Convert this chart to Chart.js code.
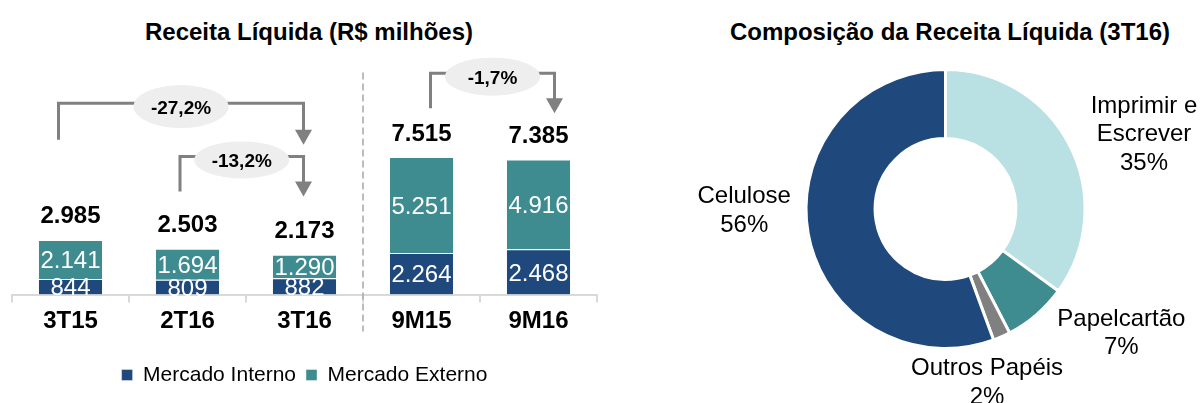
<!DOCTYPE html>
<html>
<head>
<meta charset="utf-8">
<script src="https://cdn.jsdelivr.net/npm/chart.js@4.4.1/dist/chart.umd.min.js"></script>
<style>
  html, body { margin:0; padding:0; background:#fff; }
  body { width:1203px; height:403px; position:relative; overflow:hidden; font-family:"Liberation Sans", Arial, sans-serif; }
  .title { position:absolute; top:20px; font-weight:bold; font-size:24px; line-height:24px; color:#000; text-align:center; white-space:nowrap; }
  #wrapL { position:absolute; left:0; top:0; width:603px; height:403px; }
  #wrapR { position:absolute; left:600px; top:0; width:603px; height:403px; }
</style>
</head>
<body>
<div class="title" style="left:109px; width:400px;">Receita Líquida (R$ milhões)</div>
<div class="title" style="left:700px; width:500px;">Composição da Receita Líquida (3T16)</div>
<div id="wrapL"><canvas id="barChart"></canvas></div>
<div id="wrapR"><canvas id="pieChart"></canvas></div>
<script>
// ---------- data ----------
const categories = ['3T15', '2T16', '3T16', '9M15', '9M16'];
const mercadoInterno = [844, 809, 882, 2264, 2468];
const mercadoExterno = [2141, 1694, 1290, 5251, 4916];
const totals = [2985, 2503, 2173, 7515, 7385];
const variationLabels = ['-27,2%', '-13,2%', '-1,7%'];
const variationFrom = [0, 1, 3];
const variationTo = [2, 2, 4];

const segmentos = ['Imprimir e Escrever', 'Papelcartão', 'Outros Papéis', 'Celulose'];
const segmentoLinhas = [['Imprimir e', 'Escrever'], ['Papelcartão'], ['Outros Papéis'], ['Celulose']];
const participacao = [35.0, 7.4, 2.0, 55.6];

// ---------- styles ----------
const FONT = '"Liberation Sans", Arial, sans-serif';
const NAVY = '#1F497D';
const TEAL = '#3E8C90';
const LIGHT = '#B9E0E3';
const GRAY = '#808080';

function fmt(n) { return String(n).replace(/\B(?=(\d{3})+(?!\d))/g, '.'); }

// ---------- bar chart plugin ----------
const barDecor = {
  id: 'barDecor',
  afterDatasetsDraw(chart, args, opts) {
    const ctx = chart.ctx;
    const xs = chart.scales.x, ys = chart.scales.y;
    ctx.save();
    // inner value labels
    ctx.font = '24px ' + FONT;
    ctx.fillStyle = '#fff';
    ctx.textAlign = 'center';
    ctx.textBaseline = 'alphabetic';
    chart.data.datasets.forEach((ds, di) => {
      chart.getDatasetMeta(di).data.forEach((bar, i) => {
        const cy = (bar.y + bar.base) / 2;
        ctx.fillText(fmt(ds.data[i]), bar.x, cy + 8.6);
      });
    });
    // totals
    ctx.font = 'bold 24px ' + FONT;
    ctx.fillStyle = '#000';
    const topMeta = chart.getDatasetMeta(1);
    totals.forEach((t, i) => {
      const bar = topMeta.data[i];
      ctx.fillText(fmt(t), bar.x, bar.y - 16.5);
    });
    // separator
    const sepX = (xs.getPixelForValue(2) + xs.getPixelForValue(3)) / 2;
    ctx.strokeStyle = '#A6A6A6';
    ctx.lineWidth = 1.5;
    ctx.setLineDash([7, 4]);
    ctx.beginPath();
    ctx.moveTo(sepX, chart.chartArea.top + 34);
    ctx.lineTo(sepX, chart.chartArea.bottom + 37);
    ctx.stroke();
    ctx.setLineDash([]);
    // arrows
    opts.arrows.forEach((a, k) => {
      const x1 = xs.getPixelForValue(variationFrom[k]) + a.dx1;
      const x2 = xs.getPixelForValue(variationTo[k]) + a.dx2;
      const yTop = ys.getPixelForValue(a.top);
      const yStart = ys.getPixelForValue(a.start);
      const yTip = ys.getPixelForValue(a.tip);
      ctx.strokeStyle = GRAY;
      ctx.fillStyle = GRAY;
      ctx.lineWidth = 3;
      ctx.lineJoin = 'miter';
      ctx.beginPath();
      ctx.moveTo(x1, yStart);
      ctx.lineTo(x1, yTop);
      ctx.lineTo(x2, yTop);
      ctx.lineTo(x2, yTip - 14);
      ctx.stroke();
      ctx.beginPath();
      ctx.moveTo(x2 - 8.5, yTip - 15);
      ctx.lineTo(x2 + 8.5, yTip - 15);
      ctx.lineTo(x2, yTip);
      ctx.closePath();
      ctx.fill();
      const ex = (x1 + x2) / 2, ey = yTop + 3.4;
      ctx.fillStyle = '#EEEEEE';
      ctx.beginPath();
      ctx.ellipse(ex, ey, 47.5, a.eh / 2, 0, 0, Math.PI * 2);
      ctx.fill();
      ctx.fillStyle = '#000';
      ctx.font = 'bold 19px ' + FONT;
      ctx.textAlign = 'center';
      ctx.fillText(variationLabels[k], ex, ey + 7);
    });
    ctx.restore();
  }
};

new Chart(document.getElementById('barChart'), {
  type: 'bar',
  data: {
    labels: categories,
    datasets: [
      { label: 'Mercado Interno', data: mercadoInterno, backgroundColor: NAVY, borderColor: 'rgba(255,255,255,0.4)', borderWidth: 1, borderSkipped: 'bottom' },
      { label: 'Mercado Externo', data: mercadoExterno, backgroundColor: TEAL, borderColor: 'rgba(255,255,255,0.4)', borderWidth: 1, borderSkipped: 'bottom' }
    ]
  },
  options: {
    responsive: true,
    maintainAspectRatio: false,
    animation: false,
    events: [],
    layout: { padding: { left: 12, right: 6, top: 38.5, bottom: 7.5 } },
    datasets: { bar: { categoryPercentage: 0.556, barPercentage: 1 } },
    scales: {
      x: {
        stacked: true,
        grid: { offset: true, drawOnChartArea: false, drawTicks: true, tickLength: 8, color: '#D9D9D9', lineWidth: 2 },
        border: { display: true, color: '#D9D9D9', width: 2 },
        ticks: { color: '#000', font: { family: FONT, size: 24, weight: 'bold' }, padding: 4 },
        afterFit(scale) { scale.height = 60; }
      },
      y: { stacked: true, display: false, min: 0, max: 14000 }
    },
    plugins: {
      legend: {
        position: 'bottom',
        labels: { color: '#000', font: { family: FONT, size: 21 }, boxWidth: 11, boxHeight: 11, padding: 10 }
      },
      tooltip: { enabled: false },
      barDecor: {
        arrows: [
          { dx1: -12, dx2: -1, top: 10463, start: 8460, tip: 8187, eh: 43 },
          { dx1: -7.5, dx2: -1, top: 7548, start: 5638, tip: 5365, eh: 37 },
          { dx1: 9, dx2: 16, top: 12100, start: 10190, tip: 9917, eh: 38 }
        ]
      }
    }
  },
  plugins: [barDecor]
});

// ---------- doughnut ----------
const pieLabels = {
  id: 'pieLabels',
  afterDatasetsDraw(chart, args, opts) {
    const ctx = chart.ctx;
    const meta = chart.getDatasetMeta(0);
    ctx.save();
    ctx.font = '24px ' + FONT;
    ctx.fillStyle = '#000';
    ctx.textAlign = 'center';
    ctx.textBaseline = 'alphabetic';
    meta.data.forEach((arc, i) => {
      const anc = opts.anchors[i];
      const a = anc.angle * Math.PI / 180;
      const d = arc.outerRadius * anc.dist;
      const cx = arc.x + d * Math.sin(a);
      const cy = arc.y - d * Math.cos(a);
      const lines = segmentoLinhas[i].concat([Math.round(participacao[i]) + '%']);
      const lh = 28.5;
      const y0 = cy - (lines.length - 1) * lh / 2;
      lines.forEach((ln, j) => ctx.fillText(ln, cx, y0 + j * lh + 8.6));
    });
    ctx.restore();
  }
};

new Chart(document.getElementById('pieChart'), {
  type: 'doughnut',
  data: {
    labels: segmentos,
    datasets: [{
      data: participacao,
      backgroundColor: [LIGHT, TEAL, GRAY, NAVY],
      borderColor: '#fff',
      borderWidth: 3
    }]
  },
  options: {
    responsive: true,
    maintainAspectRatio: false,
    animation: false,
    events: [],
    cutout: '50.5%',
    layout: { padding: { left: 204.5, right: 116.5, top: 68, bottom: 53 } },
    plugins: {
      legend: { display: false },
      tooltip: { enabled: false },
      pieLabels: {
        anchors: [
          { angle: 68.9, dist: 1.525 },
          { angle: 124.8, dist: 1.535 },
          { angle: 166.4, dist: 1.266 },
          { angle: 270, dist: 1.443 }
        ]
      }
    }
  },
  plugins: [pieLabels]
});
</script>
</body>
</html>
